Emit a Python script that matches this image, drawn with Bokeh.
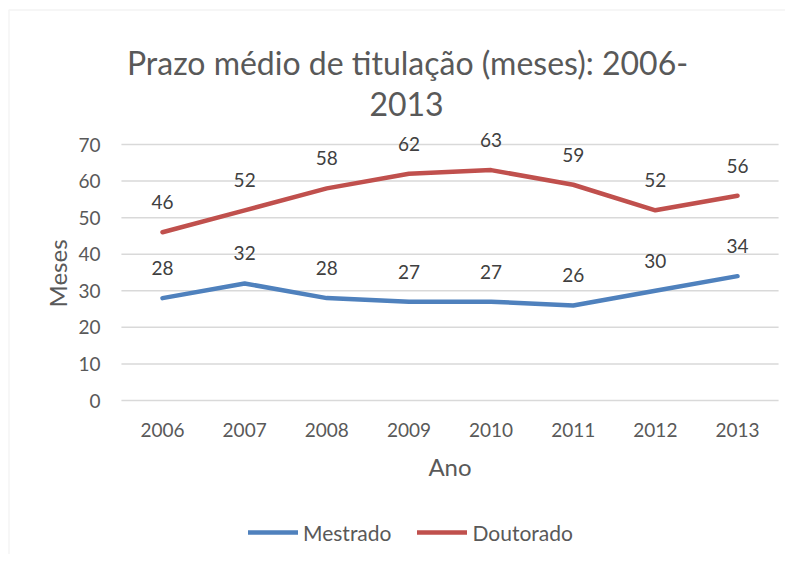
import math
from bokeh.plotting import figure
from bokeh.models import ColumnDataSource, Label, Legend, LegendItem, Range1d, BoxAnnotation
from bokeh.core.properties import value
from bokeh.embed import file_html
from bokeh.resources import INLINE

years = ["2006", "2007", "2008", "2009", "2010", "2011", "2012", "2013"]
mestrado = [28, 32, 28, 27, 27, 26, 30, 34]
doutorado = [46, 52, 58, 62, 63, 59, 52, 56]
y_ticks = [0, 10, 20, 30, 40, 50, 60, 70]

FONT = "Lato"
BLUE = "#4F81BD"
RED = "#C0504D"
GRID = "#D9D9D9"
TXT = "#595959"
LBL = "#404040"

W, H = 785, 554
# plot-area geometry in figure pixels
PX_LEFT, PX_STEP = 162.0, 82.143     # x pixel of first category, step between categories
PY_ZERO, PY_PER10 = 400.0, 36.571    # y pixel of value 0, pixels per 10 units

idx = list(range(len(years)))
x0 = (0 - PX_LEFT) / PX_STEP
x1 = (W - PX_LEFT) / PX_STEP
y1 = PY_ZERO / PY_PER10 * 10
y0 = -(H - PY_ZERO) / PY_PER10 * 10

p = figure(width=W, height=H, output_backend="svg", toolbar_location=None,
           x_range=Range1d(x0, x1), y_range=Range1d(y0, y1),
           min_border=0, min_border_left=0, min_border_right=0,
           min_border_top=0, min_border_bottom=0)
p.axis.visible = False
p.grid.visible = False
p.outline_line_color = None
p.background_fill_color = "white"
p.border_fill_color = "white"

# chart-area border (only its left and top edges fall inside the window)
p.add_layout(BoxAnnotation(left=8.5, right=W + 20, top=H - 9.5, bottom=-20,
                           left_units="screen", right_units="screen",
                           top_units="screen", bottom_units="screen",
                           fill_alpha=0, line_color=GRID, line_width=1.5))

n = len(years)
# horizontal gridlines across the plot area
p.segment(x0=[-0.5] * len(y_ticks), x1=[n - 0.5] * len(y_ticks), y0=y_ticks, y1=y_ticks,
          line_color=GRID, line_width=1.5)

# y tick labels
p.text(x=[-0.5] * len(y_ticks), y=y_ticks, text=[str(t) for t in y_ticks], x_offset=-21,
       text_font=value(FONT), text_font_size="19px", text_color=TXT,
       text_align="right", text_baseline="middle")
# x tick labels
p.text(x=idx, y=[0] * n, text=years, y_offset=29,
       text_font=value(FONT), text_font_size="19px", text_color=TXT,
       text_align="center", text_baseline="middle")

src = ColumnDataSource(dict(x=idx, m=mestrado, d=doutorado,
                            ml=[str(v) for v in mestrado], dl=[str(v) for v in doutorado]))
r_m = p.line("x", "m", source=src, line_color=BLUE, line_width=4.5, line_cap="round", line_join="round")
r_d = p.line("x", "d", source=src, line_color=RED, line_width=4.5, line_cap="round", line_join="round")

for col, lab in (("m", "ml"), ("d", "dl")):
    p.text("x", col, text=lab, source=src, text_font=value(FONT), text_font_size="19px",
           text_color=LBL, text_align="center", text_baseline="middle", y_offset=-30)

def lab(text, x, y, size, angle=0.0, baseline="middle"):
    # x from figure left, y from figure top (pixels)
    p.add_layout(Label(x=x, y=H - y, x_units="screen", y_units="screen", text=text,
                       text_font=FONT, text_font_size=size, text_color=TXT, angle=angle,
                       text_align="center", text_baseline=baseline))

lab("Prazo médio de titulação (meses): 2006-", 407, 62, "32px", baseline="alphabetic")
lab("2013", 406, 103.5, "32px", baseline="alphabetic")
lab("Meses", 56.5, 273, "24px", angle=math.pi / 2)
lab("Ano", 449.5, 466, "24px")

legend = Legend(items=[LegendItem(label="Mestrado", renderers=[r_m]),
                       LegendItem(label="Doutorado", renderers=[r_d])],
                orientation="horizontal", location=(248, 9.5),
                glyph_width=50, glyph_height=24, label_height=24, label_standoff=5, spacing=26,
                padding=0, margin=0, background_fill_alpha=0, border_line_color=None,
                label_text_font=FONT, label_text_font_size="21px", label_text_color=TXT)
p.add_layout(legend, "center")

open("out.html", "w").write(file_html(p, INLINE))
